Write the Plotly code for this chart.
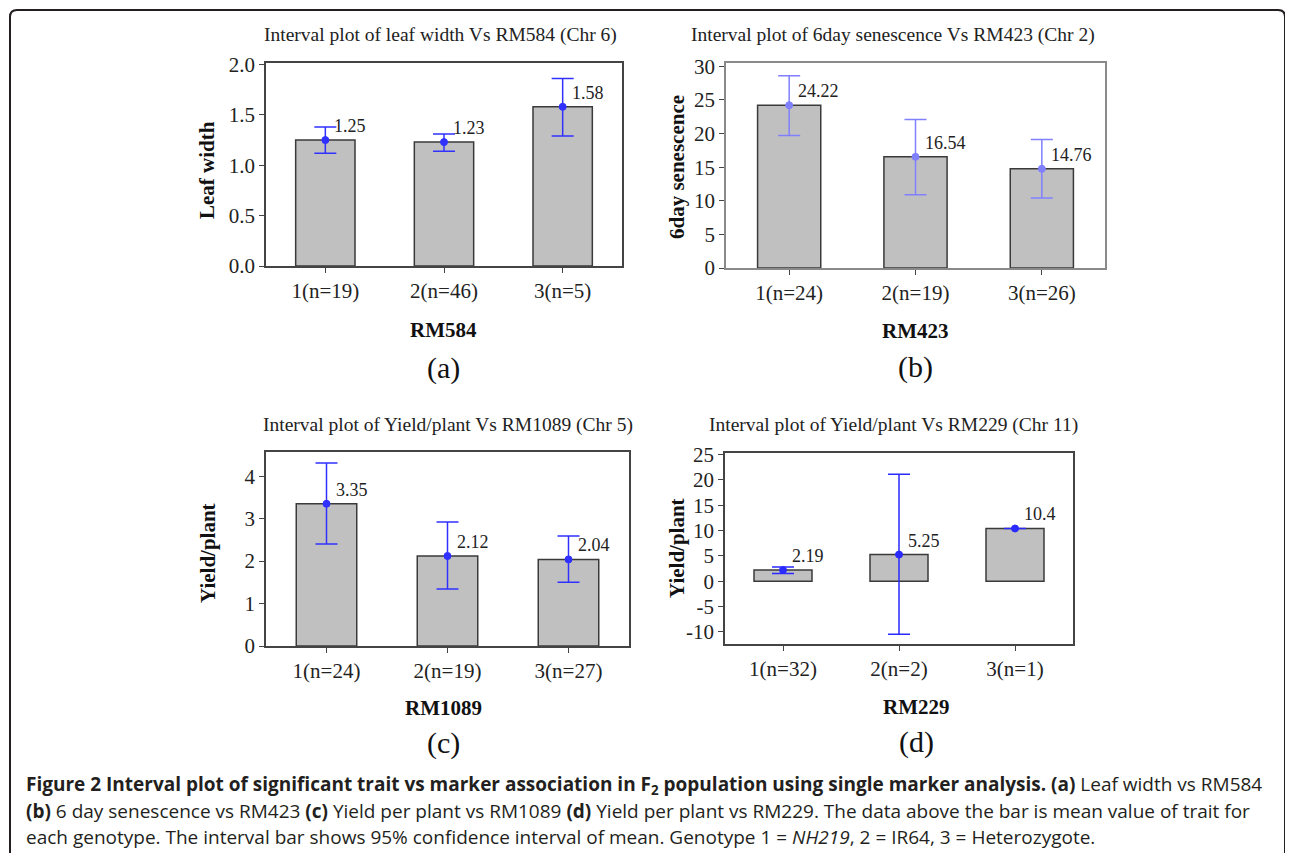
import plotly.graph_objects as go

# page body has an 8px margin on top/left; the figure fills the rest of the window
OFF = 8
W, H = 1293 - OFF, 853 - OFF

# ---------------- data ----------------
cats_a = ["1(n=19)", "2(n=46)", "3(n=5)"]
mean_a = [1.25, 1.23, 1.58]
lo_a = [1.12, 1.14, 1.29]
hi_a = [1.38, 1.31, 1.86]

cats_b = ["1(n=24)", "2(n=19)", "3(n=26)"]
mean_b = [24.22, 16.54, 14.76]
lo_b = [19.7, 10.9, 10.4]
hi_b = [28.6, 22.1, 19.1]

cats_c = ["1(n=24)", "2(n=19)", "3(n=27)"]
mean_c = [3.35, 2.12, 2.04]
lo_c = [2.40, 1.34, 1.50]
hi_c = [4.31, 2.92, 2.59]

cats_d = ["1(n=32)", "2(n=2)", "3(n=1)"]
mean_d = [2.19, 5.25, 10.4]
lo_d = [1.5, -10.5, 10.4]
hi_d = [2.8, 21.1, 10.4]

ticks_d = [-10, -5, 0, 5, 10, 15, 20, 25]

titles = [
    "Interval plot of leaf width Vs RM584 (Chr 6)",
    "Interval plot of 6day senescence Vs RM423 (Chr 2)",
    "Interval plot of Yield/plant Vs RM1089 (Chr 5)",
    "Interval plot of Yield/plant Vs RM229 (Chr 11)",
]
xtitles = ["RM584", "RM423", "RM1089", "RM229"]
ytitles = ["Leaf width", "6day senescence", "Yield/plant", "Yield/plant"]
letters = ["(a)", "(b)", "(c)", "(d)"]

# ---------------- layout helpers (window pixel -> paper) ----------------
def px(x):
    return (x - OFF) / W

def py(y):
    return 1 - (y - OFF) / H

SERIF = "Liberation Serif, Times New Roman, serif"
BAR_FILL = "#c0c0c0"
BAR_LINE = "#3a3a3a"

panels = [
    dict(cats=cats_a, mean=mean_a, lo=lo_a, hi=hi_a, box=(266, 63, 622, 266),
         yrange=[0, 2.015], dtick=0.5, fmt=".1f", ecol="#3030ff", axcol="#444444",
         tcx=440, tcy=35, xtx=443, xty=330, lty=368, ytx=207, yty=170),
    dict(cats=cats_b, mean=mean_b, lo=lo_b, hi=hi_b, box=(726, 63, 1105, 268),
         yrange=[0, 30.5], dtick=5, fmt="d", ecol="#8080ff", axcol="#8a8a8a",
         tcx=893, tcy=35, xtx=915, xty=331, lty=367, ytx=677, yty=167),
    dict(cats=cats_c, mean=mean_c, lo=lo_c, hi=hi_c, box=(266, 452, 629, 646),
         yrange=[0, 4.57], dtick=1, fmt="d", ecol="#3030ff", axcol="#444444",
         tcx=448, tcy=425, xtx=443, xty=708, lty=743, ytx=208, yty=553),
    dict(cats=cats_d, mean=mean_d, lo=lo_d, hi=hi_d, box=(725, 453, 1073, 644),
         yrange=[-12.4, 25.3], dtick=5, fmt="d", ecol="#2a2aff", axcol="#444444",
         tcx=893, tcy=425, xtx=916, xty=707, lty=742, ytx=677, yty=548),
]

fig = go.Figure()
annotations = []
layout_axes = {}

for i, p in enumerate(panels):
    n = "" if i == 0 else str(i + 1)
    xa, ya = "x" + n, "y" + n
    x0, y0, x1, y1 = p["box"]
    err_plus = [h - m for h, m in zip(p["hi"], p["mean"])]
    err_minus = [m - l for m, l in zip(p["mean"], p["lo"])]

    fig.add_trace(go.Bar(
        x=p["cats"], y=p["mean"], width=0.5, xaxis=xa, yaxis=ya,
        marker=dict(color=BAR_FILL, line=dict(color=BAR_LINE, width=1.5)),
        showlegend=False, hoverinfo="skip"))
    fig.add_trace(go.Scatter(
        x=p["cats"], y=p["mean"], mode="markers", xaxis=xa, yaxis=ya,
        marker=dict(size=7, color=p["ecol"], line=dict(color=p["ecol"], width=1)),
        error_y=dict(type="data", symmetric=False, array=err_plus,
                     arrayminus=err_minus, color=p["ecol"], thickness=1.5, width=11),
        showlegend=False, hoverinfo="skip"))

    yaxis = dict(domain=[py(y1), py(y0)], range=p["yrange"], anchor=xa,
                 automargin=False,
                 showgrid=False, zeroline=False, showline=True, mirror=True,
                 linecolor=p["axcol"], linewidth=1.5, ticks="outside", ticklen=5,
                 tickcolor="#444444", tickfont=dict(family=SERIF, size=21, color="#222222"),
                 dtick=p["dtick"], tick0=0)
    if p["fmt"] == ".1f":
        yaxis["tickformat"] = ".1f"
    if i == 3:
        yaxis.pop("dtick")
        yaxis.pop("tick0")
        yaxis["tickvals"] = ticks_d
        yaxis["ticktext"] = [str(v) for v in ticks_d]
    xaxis = dict(domain=[px(x0), px(x1)], range=[-0.5, 2.5], anchor=ya,
                 automargin=False,
                 type="category", showgrid=False, zeroline=False, showline=True,
                 mirror=True, linecolor=p["axcol"], linewidth=1.5, ticks="outside",
                 ticklen=5, tickcolor="#444444",
                 tickfont=dict(family=SERIF, size=21, color="#222222"))
    layout_axes["xaxis" + n] = xaxis
    layout_axes["yaxis" + n] = yaxis

    # value labels
    for c, m in zip(p["cats"], p["mean"]):
        annotations.append(dict(
            x=c, y=m, xref=xa, yref=ya, text=("%g" % m), showarrow=False,
            xanchor="left", yanchor="middle", xshift=7, yshift=14,
            font=dict(family=SERIF, size=18, color="#222222")))

    # titles
    annotations.append(dict(x=px(p["tcx"]), y=py(p["tcy"]), xref="paper", yref="paper",
                            text=titles[i], showarrow=False, xanchor="center", yanchor="middle",
                            font=dict(family=SERIF, size=19.5, color="#222222")))
    annotations.append(dict(x=px(p["xtx"]), y=py(p["xty"]), xref="paper", yref="paper",
                            text="<b>" + xtitles[i] + "</b>", showarrow=False,
                            xanchor="center", yanchor="middle",
                            font=dict(family=SERIF, size=21, color="#111111")))
    annotations.append(dict(x=px(p["xtx"]), y=py(p["lty"]), xref="paper", yref="paper",
                            text=letters[i], showarrow=False,
                            xanchor="center", yanchor="middle",
                            font=dict(family=SERIF, size=30, color="#111111")))
    annotations.append(dict(x=px(p["ytx"]), y=py(p["yty"]), xref="paper", yref="paper",
                            text="<b>" + ytitles[i] + "</b>", showarrow=False, textangle=-90,
                            xanchor="center", yanchor="middle",
                            font=dict(family=SERIF, size=21, color="#111111")))

# caption
SANS = "Open Sans, sans-serif"
cap_lines = [
    "<b>Figure 2 Interval plot of significant trait vs marker association in F<sub>2</sub> "
    "population using single marker analysis. (a)</b> Leaf width vs RM584",
    "<b>(b)</b> 6 day senescence vs RM423 <b>(c)</b> Yield per plant vs RM1089 "
    "<b>(d)</b> Yield per plant vs RM229. The data above the bar is mean value of trait for",
    "each genotype. The interval bar shows 95% confidence interval of mean. "
    "Genotype 1 = <i>NH219</i>, 2 = IR64, 3 = Heterozygote.",
]
cap_y = [785, 811, 837]
for t, yy in zip(cap_lines, cap_y):
    annotations.append(dict(x=px(24), y=py(yy), xref="paper", yref="paper", text=t,
                            showarrow=False, xanchor="left", yanchor="middle",
                            font=dict(family=SANS, size=19, color="#231f20")))

# outer frame with rounded top corners
r = 7
fl, ft, fr, fb = 10, 10, 1285, 853
path = (f"M {px(fl)},{py(fb)} L {px(fl)},{py(ft + r)} "
        f"Q {px(fl)},{py(ft)} {px(fl + r)},{py(ft)} "
        f"L {px(fr - r)},{py(ft)} Q {px(fr)},{py(ft)} {px(fr)},{py(ft + r)} "
        f"L {px(fr)},{py(fb)}")

fig.update_layout(
    width=W, height=H,
    margin=dict(l=0, r=0, t=0, b=0, autoexpand=False),
    paper_bgcolor="white", plot_bgcolor="white",
    annotations=annotations,
    shapes=[dict(type="path", path=path, xref="paper", yref="paper",
                 line=dict(color="#231f20", width=2))],
    bargap=0.5,
    **layout_axes,
)

fig.write_html("out.html")
